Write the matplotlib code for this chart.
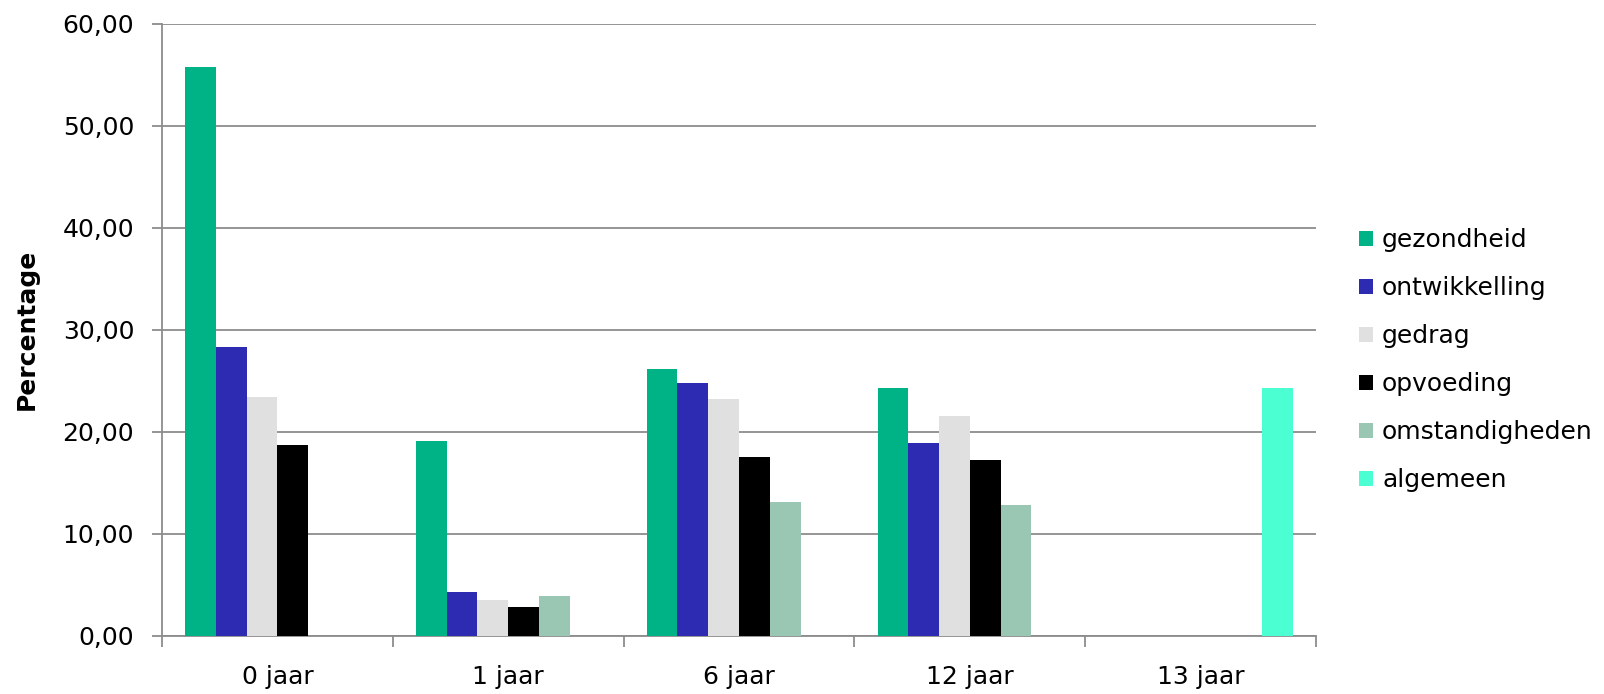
import numpy as np
import matplotlib.pyplot as plt
from matplotlib.ticker import FuncFormatter

categorieen = ['0 jaar', '1 jaar', '6 jaar', '12 jaar', '13 jaar']
reeksen = ['gezondheid', 'ontwikkelling', 'gedrag', 'opvoeding',
           'omstandigheden', 'algemeen']
kleuren = ['#00B386', '#2E2BB3', '#E0E0E0', '#000000', '#99C7B3', '#4BFFD2']

gezondheid = [55.7, 19.1, 26.2, 24.3, np.nan]
ontwikkelling = [28.3, 4.3, 24.8, 18.9, np.nan]
gedrag = [23.4, 3.5, 23.2, 21.6, np.nan]
opvoeding = [18.7, 2.8, 17.5, 17.2, np.nan]
omstandigheden = [np.nan, 3.9, 13.1, 12.8, np.nan]
algemeen = [np.nan, np.nan, np.nan, np.nan, 24.3]
waarden = [gezondheid, ontwikkelling, gedrag, opvoeding, omstandigheden, algemeen]

y_ticks = [0, 10, 20, 30, 40, 50, 60]

grijs = '#8C8C8C'
plt.rcParams['font.family'] = ['DejaVu Sans']

figuur = plt.figure(figsize=(16.04, 6.94), dpi=100)
eixo = figuur.add_axes([0.101, 0.0836, 0.7195, 0.8824])

x = np.arange(len(categorieen))
breedte = 0.8 / len(reeksen)
for i, (naam, kleur, reeks) in enumerate(zip(reeksen, kleuren, waarden)):
    posities = x - 0.4 + breedte * (i + 0.5)
    eixo.bar(posities, reeks, width=breedte, color=kleur, label=naam,
             zorder=3)

eixo.set_xlim(-0.5, len(categorieen) - 0.5)
eixo.set_ylim(0, 60)
eixo.set_yticks(y_ticks)
eixo.yaxis.set_major_formatter(
    FuncFormatter(lambda v, p: '{:.2f}'.format(v).replace('.', ',')))
eixo.yaxis.grid(True, color=grijs, linewidth=1.3, zorder=0)

# categorie-labels in het midden, tickstreepjes op de grenzen
eixo.set_xticks(x)
eixo.set_xticklabels(categorieen)
eixo.set_xticks(np.arange(-0.5, len(categorieen)), minor=True)
eixo.tick_params(axis='x', which='major', length=0, pad=21, labelsize=18)
eixo.tick_params(axis='x', which='minor', length=8, color=grijs, width=1.3)
eixo.tick_params(axis='y', length=7, color=grijs, width=1.3, labelsize=18,
                 pad=13)

for kant in ['top', 'right']:
    eixo.spines[kant].set_visible(False)
for kant in ['left', 'bottom']:
    eixo.spines[kant].set_color(grijs)
    eixo.spines[kant].set_linewidth(1.3)

eixo.set_ylabel('Percentage', fontsize=18, fontweight='bold')
eixo.yaxis.set_label_coords(-0.107, 0.5)

eixo.legend(loc='center left', bbox_to_anchor=(1.0286, 0.45), frameon=False,
            fontsize=18, handlelength=0.56, handleheight=0.56,
            handletextpad=0.36, labelspacing=0.96, borderaxespad=0)

figuur.savefig('out.png', dpi=100)
